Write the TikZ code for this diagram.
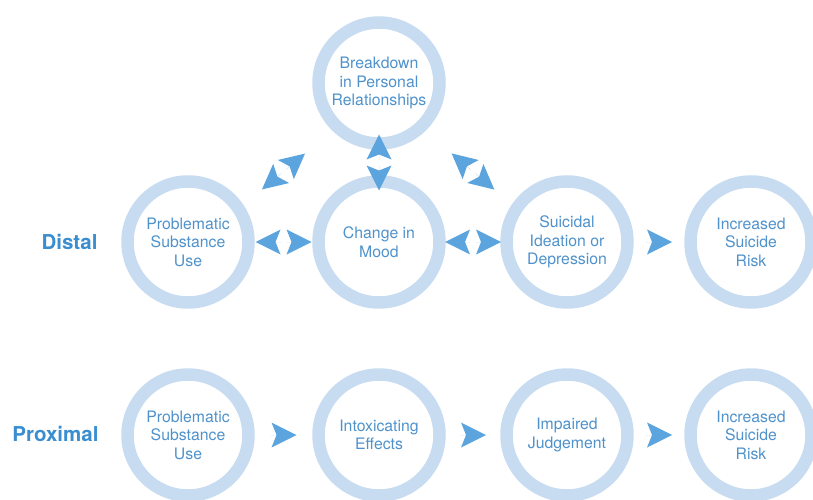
\documentclass[tikz,border=0pt]{standalone}
\usepackage{fontspec}
\setmainfont{TeX Gyre Heros}
\usetikzlibrary{arrows.meta,calc}
\definecolor{ringblue}{HTML}{C8DCF1}
\definecolor{arrowblue}{HTML}{5CA4DE}
\definecolor{textblue}{HTML}{4F92CB}
\definecolor{labelblue}{HTML}{3A8ED0}
\begin{document}
\begin{tikzpicture}[x=1pt,y=-1pt,
  ring/.style={circle, draw=ringblue, line width=12.5pt, minimum size=121pt, inner sep=0pt,
    align=center, text=textblue, font=\fontsize{15.8}{18.5}\selectfont},
  rowlabel/.style={anchor=east, text=labelblue, font=\fontsize{20.5}{24}\selectfont\bfseries},
  hd/.style={draw=arrowblue, line width=0.01pt,
    -{Stealth[length=25pt, width=25pt, inset=5pt, line width=0pt]}}]
\useasboundingbox (0,0) rectangle (813,500);
\clip (0,0) rectangle (813,500);
% distal row
\node[ring] (top) at (379,83) {Breakdown\\in Personal\\Relationships};
\node[ring] (d1) at (188,242) {Problematic\\Substance\\Use};
\node[ring] (d2) at (379,242) {Change in\\Mood};
\node[ring] (d3) at (567,242) {Suicidal\\Ideation or\\Depression};
\node[ring] (d4) at (751,242) {Increased\\Suicide\\Risk};
% proximal row
\node[ring] (p1) at (188,435) {Problematic\\Substance\\Use};
\node[ring] (p2) at (379,435) {Intoxicating\\Effects};
\node[ring] (p3) at (567,435) {Impaired\\Judgement};
\node[ring] (p4) at (751,435) {Increased\\Suicide\\Risk};
% labels
\node[rowlabel] (ldistal) at (101,242) {Distal};
\node[rowlabel] (lprox) at (102,434) {Proximal};
% double arrow pairs
\coordinate (m12) at ($(d1)!0.5!(d2)$);
\draw[hd] ($(m12)!3pt!(d1)$) -- ($(m12)!28pt!(d1)$);
\draw[hd] ($(m12)!3pt!(d2)$) -- ($(m12)!28pt!(d2)$);
\coordinate (m23) at ($(d2)!0.5!(d3)$);
\draw[hd] ($(m23)!3pt!(d2)$) -- ($(m23)!28pt!(d2)$);
\draw[hd] ($(m23)!3pt!(d3)$) -- ($(m23)!28pt!(d3)$);
\coordinate (mt2) at ($(top)!0.5!(d2)$);
\draw[hd] ($(mt2)!3pt!(top)$) -- ($(mt2)!28pt!(top)$);
\draw[hd] ($(mt2)!3pt!(d2)$) -- ($(mt2)!28pt!(d2)$);
\coordinate (d1s) at ($(d1)+(0,9)$);
\coordinate (topsL) at ($(top)+(0,9)$);
\coordinate (mt1) at ($(d1s)!0.5!(topsL)$);
\draw[hd] ($(mt1)!3pt!(d1s)$) -- ($(mt1)!28pt!(d1s)$);
\draw[hd] ($(mt1)!3pt!(topsL)$) -- ($(mt1)!28pt!(topsL)$);
\coordinate (d3s) at ($(d3)+(0,9)$);
\coordinate (topsR) at ($(top)+(0,9)$);
\coordinate (mt3) at ($(d3s)!0.5!(topsR)$);
\draw[hd] ($(mt3)!3pt!(d3s)$) -- ($(mt3)!28pt!(d3s)$);
\draw[hd] ($(mt3)!3pt!(topsR)$) -- ($(mt3)!28pt!(topsR)$);
% single arrows
\coordinate (m34) at ($(d3)!0.5!(d4)$);
\draw[hd] ($(m34)!-13pt!(d4)$) -- ($(m34)!13pt!(d4)$);
\coordinate (q12) at ($(p1)!0.5!(p2)$);
\draw[hd] ($(q12)!-13pt!(p2)$) -- ($(q12)!13pt!(p2)$);
\coordinate (q23) at ($(p2)!0.5!(p3)$);
\draw[hd] ($(q23)!-13pt!(p3)$) -- ($(q23)!13pt!(p3)$);
\coordinate (q34) at ($(p3)!0.5!(p4)$);
\draw[hd] ($(q34)!-13pt!(p4)$) -- ($(q34)!13pt!(p4)$);
\end{tikzpicture}
\end{document}
